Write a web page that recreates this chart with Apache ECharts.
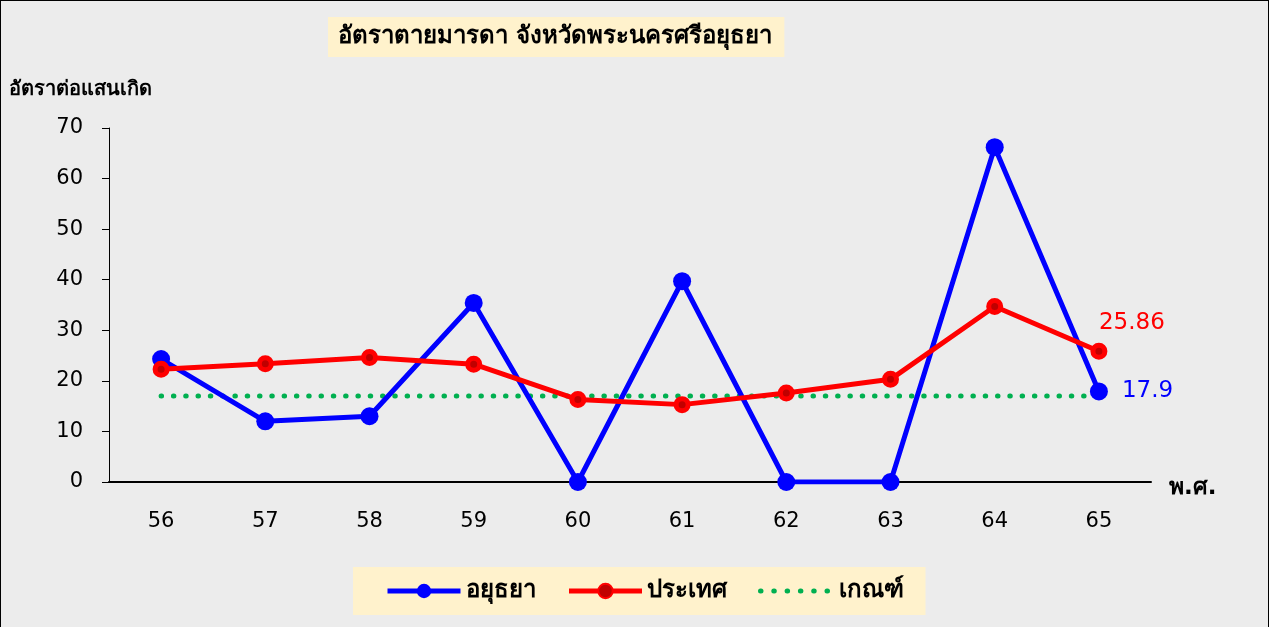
<!DOCTYPE html>
<html>
<head>
<meta charset="utf-8">
<script src="https://cdn.jsdelivr.net/npm/echarts@6/dist/echarts.min.js"></script>
<style>
  html, body { margin: 0; padding: 0; }
  #graph { width: 1267px; height: 626px; border: 1px solid #000; border-bottom: none; background: #ececec; }
</style>
</head>
<body>
<div id="graph"></div>
<script>
var years = ['56', '57', '58', '59', '60', '61', '62', '63', '64', '65'];
var ayutthaya = [24.3, 12.0, 13.0, 35.4, 0, 39.7, 0, 0, 66.2, 17.9];
var country = [22.3, 23.4, 24.6, 23.3, 16.3, 15.3, 17.6, 20.3, 34.7, 25.86];
var criteria = [17, 17, 17, 17, 17, 17, 17, 17, 17, 17];

var font = 'Tahoma, "DejaVu Sans", sans-serif';
var dots = [0.5, 11.8];
var chart = echarts.init(document.getElementById('graph'));

// only the last point gets a value label
function lastLabel(p) {
    return p.dataIndex === years.length - 1 ? p.value : '';
}

var option = {
    backgroundColor: '#ececec',
    textStyle: { fontFamily: font },
    title: {
        text: 'อัตราตายมารดา จังหวัดพระนครศรีอยุธยา',
        left: 327,
        top: 16,
        backgroundColor: '#fff2cc',
        padding: [8, 12, 8, 10],
        textStyle: { fontSize: 24, fontWeight: 'bold', color: '#000', fontFamily: font }
    },
    legend: {
        bottom: 12,
        left: 352,
        backgroundColor: '#fff2cc',
        padding: [12, 22, 12, 32],
        itemGap: 31,
        itemWidth: 73,
        itemHeight: 18,
        textStyle: { fontSize: 24, fontWeight: 'bold', color: '#000' },
        lineStyle: { width: 5 },
        data: [
            { name: 'อยุธยา' },
            { name: 'ประเทศ' },
            { name: 'เกณฑ์', itemStyle: { opacity: 0 }, lineStyle: { width: 5, type: [0.5, 12.8], cap: 'round' } }
        ]
    },
    grid: { left: 108, right: 117, top: 127, bottom: 145 },
    xAxis: {
        type: 'category',
        data: years,
        name: 'พ.ศ.',
        nameGap: 18,
        nameTextStyle: { fontSize: 23, fontWeight: 'bold', color: '#000', verticalAlign: 'top', lineHeight: 12 },
        axisLine: { lineStyle: { color: '#000', width: 2 } },
        axisTick: { alignWithLabel: true, length: 6, lineStyle: { color: '#000' } },
        axisLabel: { fontSize: 21, color: '#000', margin: 29 }
    },
    yAxis: {
        type: 'value',
        min: 0,
        max: 70,
        interval: 10,
        name: 'อัตราต่อแสนเกิด',
        nameLocation: 'end',
        nameGap: 28,
        nameTextStyle: { fontSize: 20, fontWeight: 'bold', color: '#000', align: 'left', padding: [0, 0, 0, -100] },
        axisLine: { show: true, lineStyle: { color: '#000', width: 1 } },
        axisTick: { show: true, length: 7, lineStyle: { color: '#000' } },
        axisLabel: { fontSize: 21, color: '#000', margin: 26 },
        splitLine: { show: false }
    },
    series: [{
        name: 'อยุธยา',
        type: 'line',
        data: ayutthaya,
        symbol: 'circle',
        symbolSize: 18,
        z: 3,
        lineStyle: { color: '#0000ff', width: 5 },
        itemStyle: { color: '#0000ff' },
        label: {
            show: true,
            formatter: lastLabel,
            position: 'right',
            distance: 14,
            fontSize: 23,
            color: '#0000ff'
        }
    }, {
        name: 'ประเทศ',
        type: 'line',
        data: country,
        symbol: 'circle',
        symbolSize: 12,
        z: 4,
        lineStyle: { color: '#ff0000', width: 5 },
        itemStyle: { color: '#c00000', borderColor: '#ff0000', borderWidth: 5 },
        label: {
            show: true,
            formatter: lastLabel,
            position: 'top',
            distance: 8,
            offset: [33, 0],
            fontSize: 23,
            color: '#ff0000'
        }
    }, {
        name: 'เกณฑ์',
        type: 'line',
        data: criteria,
        symbol: 'none',
        z: 2,
        lineStyle: { color: '#00b050', width: 5, type: dots, cap: 'round' },
        itemStyle: { color: '#00b050' }
    }]
};

chart.setOption(option);
</script>
</body>
</html>
